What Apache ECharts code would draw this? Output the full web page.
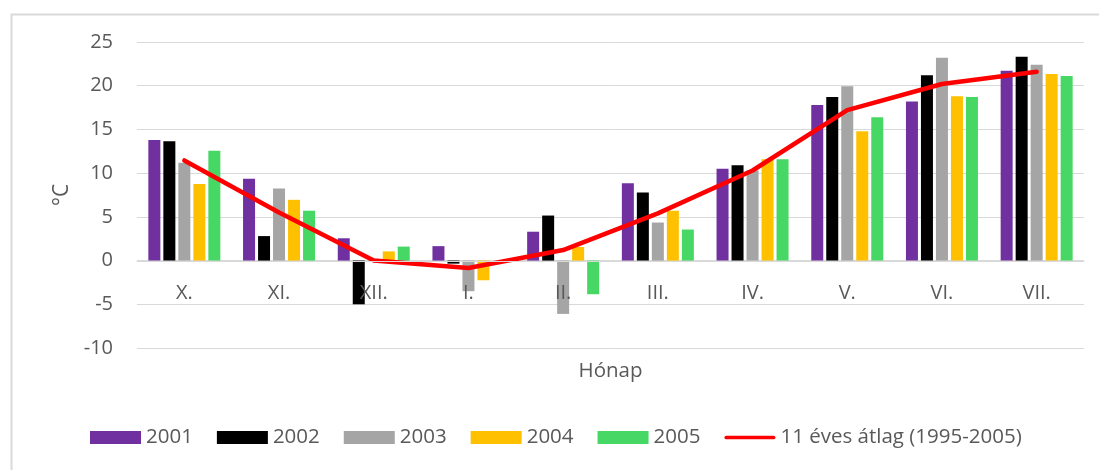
<!DOCTYPE html>
<html>
<head>
<meta charset="utf-8">
<script src="https://cdn.jsdelivr.net/npm/echarts@6/dist/echarts.min.js"></script>
<style>
  html, body { margin: 0; padding: 0; background: #fff; }
  #chart { width: 1099px; height: 470px; }
</style>
</head>
<body>
<div id="chart"></div>
<script>
// havi középhőmérsékletek, október–július
const months = ['X.', 'XI.', 'XII.', 'I.', 'II.', 'III.', 'IV.', 'V.', 'VI.', 'VII.'];
const t2001 = [13.8, 9.35, 2.55, 1.65, 3.3, 8.85, 10.5, 17.8, 18.2, 21.7];
const t2002 = [13.65, 2.8, -5.0, -0.35, 5.15, 7.8, 10.9, 18.7, 21.2, 23.3];
const t2003 = [11.2, 8.25, 0, -3.5, -6.1, 4.35, 10.3, 19.95, 23.2, 22.4];
const t2004 = [8.75, 6.95, 1.05, -2.25, 1.55, 5.7, 11.6, 14.8, 18.8, 21.35];
const t2005 = [12.55, 5.7, 1.6, 0, -3.85, 3.55, 11.6, 16.4, 18.7, 21.1];
const avg11 = [11.45, 5.5, 0.0, -0.85, 1.2, 5.4, 10.3, 17.2, 20.2, 21.6];

const yTicks = { min: -10, max: 25, step: 5 };

const FONT = '"Open Sans", "Noto Sans", sans-serif';
const TXT = '#595959';
const GRID = '#D9D9D9';

const barSeries = [
  { name: '2001', color: '#7030A0', data: t2001 },
  { name: '2002', color: '#000000', data: t2002 },
  { name: '2003', color: '#A5A5A5', data: t2003 },
  { name: '2004', color: '#FFC000', data: t2004 },
  { name: '2005', color: '#47D764', data: t2005 },
];
const LINE_NAME = '11 éves átlag (1995-2005)';

// rajzterület (px)
const G = { left: 137, right: 15, top: 42, bottom: 122 };
const plotH = 470 - G.top - G.bottom;
// a kategória-tengely a 0 °C vonalára kerül
const zeroShift = -Math.round(plotH * (0 - yTicks.min) / (yTicks.max - yTicks.min));

const chart = echarts.init(document.getElementById('chart'), null, { renderer: 'canvas' });

chart.setOption({
  backgroundColor: '#fff',
  animation: false,
  textStyle: { fontFamily: FONT, color: TXT },
  graphic: [{
    type: 'rect', left: 9, top: 12, z: -1,
    shape: { width: 1100, height: 470 },
    style: { fill: 'none', stroke: GRID, lineWidth: 2 },
  }],
  grid: G,
  legend: {
    left: 85, top: 422,
    itemWidth: 51, itemHeight: 13, itemGap: 24,
    textStyle: { color: TXT, fontFamily: FONT, fontSize: 20.5 },
    data: barSeries.map((s) => ({ name: s.name, icon: 'rect' })).concat([{
      name: LINE_NAME,
      icon: 'path://M2,0 L53,0 A2,2 0 0 1 53,4 L2,4 A2,2 0 0 1 2,0 Z',
    }]),
  },
  xAxis: {
    type: 'category', data: months, z: 10,
    offset: zeroShift,
    axisLine: { onZero: false, lineStyle: { color: GRID, width: 1 } },
    axisTick: { show: false },
    axisLabel: { color: TXT, fontFamily: FONT, fontSize: 20, margin: 22 },
    name: 'Hónap', nameLocation: 'middle', nameGap: 100,
    nameTextStyle: { color: TXT, fontFamily: FONT, fontSize: 20.5 },
  },
  yAxis: {
    type: 'value', min: yTicks.min, max: yTicks.max, interval: yTicks.step,
    axisLine: { show: false }, axisTick: { show: false },
    axisLabel: { color: TXT, fontFamily: FONT, fontSize: 20, margin: 24 },
    splitLine: { lineStyle: { color: GRID, width: 1 } },
    name: '°C', nameLocation: 'middle', nameGap: 64,
    nameTextStyle: { color: TXT, fontFamily: FONT, fontSize: 21 },
  },
  series: barSeries.map((s) => ({
    name: s.name, type: 'bar', data: s.data,
    barWidth: 12, barGap: '25%',
    itemStyle: { color: s.color },
  })).concat([{
    name: LINE_NAME, type: 'line', data: avg11,
    symbol: 'none', z: 5,
    lineStyle: { color: '#FF0000', width: 4.5, cap: 'round', join: 'round' },
    itemStyle: { color: '#FF0000' },
  }]),
});
</script>
</body>
</html>
